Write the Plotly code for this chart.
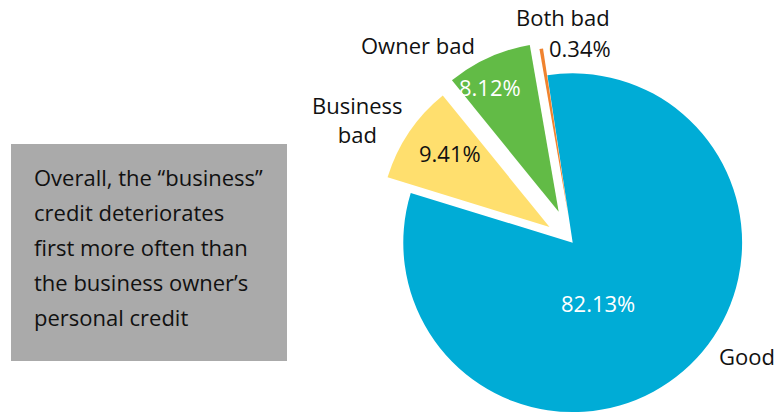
import plotly.graph_objects as go

# ---- data ----
categories = ["Good", "Business bad", "Owner bad", "Both bad"]
shares = [82.13, 9.41, 8.12, 0.34]
colors = ["#00ACD6", "#FFDF6E", "#62BB46", "#F0832F"]
pulls = [0.0, 0.165, 0.2, 0.16]
note_lines = [
    "Overall, the “business”",
    "credit deteriorates",
    "first more often than",
    "the business owner’s",
    "personal credit",
]

W, H = 776, 452
FONT = "Open Sans"


def px(x):
    return x / W


def py(y):
    return 1 - y / H


fig = go.Figure()
fig.add_trace(go.Pie(
    labels=categories,
    values=shares,
    sort=False,
    direction="clockwise",
    rotation=-8.6,
    pull=pulls,
    marker=dict(colors=colors, line=dict(color="white", width=0)),
    textinfo="none",
    domain=dict(x=[px(572.7 - 203.3), 1.0], y=[py(242.7 + 205), py(242.7 - 205)]),
    showlegend=False,
    hoverinfo="label+percent",
))

annotations = []
# category labels (outside) and percentage labels
label_pos = {"Good": (747, 356), "Business bad": (357, 119),
             "Owner bad": (418, 45), "Both bad": (563, 17)}
pct_pos = {"Good": (598, 303), "Business bad": (450, 153),
           "Owner bad": (490, 87), "Both bad": (580, 48)}
pct_color = {"Good": "white", "Business bad": "#111111",
             "Owner bad": "white", "Both bad": "#111111"}
for cat, val in zip(categories, shares):
    lx, ly = label_pos[cat]
    txt = cat.replace("Business bad", "Business<br>bad")
    annotations.append(dict(text=txt, x=px(lx), y=py(ly), xref="paper", yref="paper",
                            showarrow=False, xanchor="center", yanchor="middle",
                            font=dict(family=FONT, size=22, color="#111111")))
    qx, qy = pct_pos[cat]
    annotations.append(dict(text=f"{val:.2f}%", x=px(qx), y=py(qy), xref="paper", yref="paper",
                            showarrow=False, xanchor="center", yanchor="middle",
                            font=dict(family=FONT, size=22, color=pct_color[cat])))

# note box text
for i, line in enumerate(note_lines):
    annotations.append(dict(text=line, x=px(32), y=py(177 + 35 * i), xref="paper", yref="paper",
                            showarrow=False, xanchor="left", yanchor="middle",
                            font=dict(family=FONT, size=22, color="#111111")))

fig.update_layout(
    width=W, height=H,
    margin=dict(l=0, r=0, t=0, b=0),
    paper_bgcolor="white",
    plot_bgcolor="white",
    annotations=annotations,
    shapes=[dict(type="rect", xref="paper", yref="paper",
                 x0=px(11), x1=px(287), y0=py(361), y1=py(144),
                 fillcolor="#AAAAAA", line=dict(width=0), layer="below")],
)

fig.write_html("out.html",
               post_script="document.documentElement.style.overflow='hidden';document.body.style.overflow='hidden';")
